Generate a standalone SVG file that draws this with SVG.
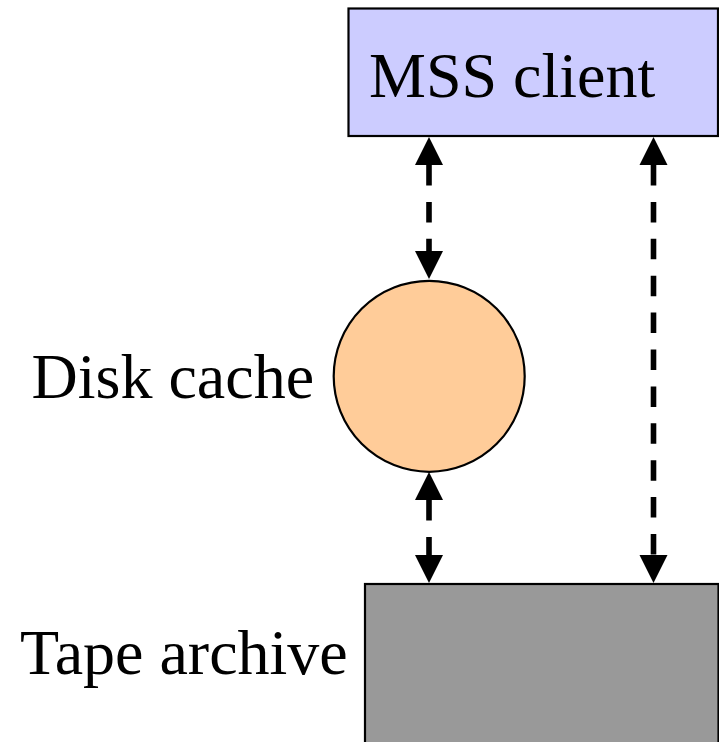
<svg xmlns="http://www.w3.org/2000/svg" width="719" height="742" viewBox="0 0 719 742">
  <style>
    .node { stroke: #000; stroke-width: 2.2; }
    .label { font-family: "Liberation Serif", "Times New Roman", serif; font-size: 64px; fill: #000; }
    .link { stroke: #000; stroke-width: 5.6; fill: none; stroke-dasharray: 20.5 16.4; }
  </style>
  <defs>
    <marker id="head" markerUnits="userSpaceOnUse" markerWidth="30" markerHeight="30"
            viewBox="0 -15 30 30" refX="0" refY="0" orient="auto-start-reverse" overflow="visible">
      <path d="M0,-14 L28,0 L0,14 Z" fill="#000"/>
    </marker>
  </defs>

  <g id="mss-client">
    <rect class="node" x="348.5" y="8.5" width="369.5" height="127.5" fill="#ccccff"/>
    <text class="label" x="369" y="97">MSS client</text>
  </g>

  <g id="disk-cache">
    <circle class="node" cx="429.2" cy="376.3" r="95.5" fill="#ffcc99"/>
    <text class="label" x="31.5" y="397.5">Disk cache</text>
  </g>

  <g id="tape-archive">
    <rect class="node" x="365" y="584" width="353.5" height="170" fill="#999999"/>
    <text class="label" x="20" y="674">Tape archive</text>
  </g>

  <g id="connectors">
    <line class="link" x1="429" y1="165" x2="429" y2="251" marker-start="url(#head)" marker-end="url(#head)"/>
    <line class="link" x1="429" y1="500" x2="429" y2="555" marker-start="url(#head)" marker-end="url(#head)"/>
    <line class="link" x1="653.5" y1="165" x2="653.5" y2="555" marker-start="url(#head)" marker-end="url(#head)"/>
  </g>
</svg>
